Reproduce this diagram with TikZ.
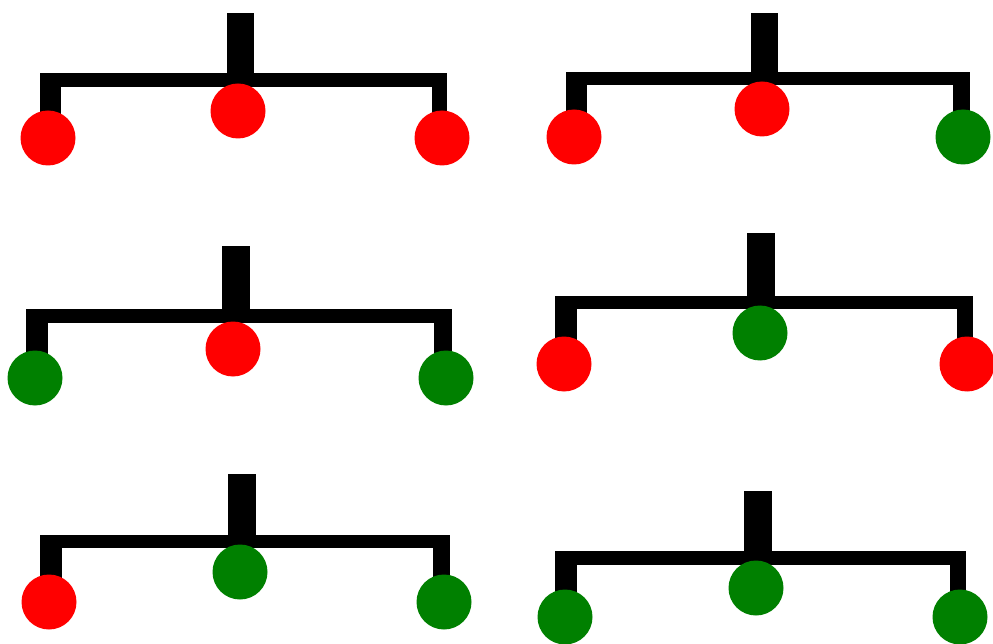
\documentclass[tikz,border=0pt]{standalone}
\definecolor{rd}{RGB}{255,0,0}
\definecolor{gr}{RGB}{0,128,0}
\tikzset{
  dot/.style={circle,inner sep=0pt,minimum size=55pt,draw=none},
  reddot/.style={dot,fill=rd},
  greendot/.style={dot,fill=gr},
  bracket/.style={fill=black}
}
\begin{document}
\begin{tikzpicture}[x=1pt,y=-1pt]
\useasboundingbox (0,0) rectangle (993,644);
% ---- group 1 (top left)
\fill[bracket] (227,13) rectangle (254,80);
\fill[bracket] (40,73) rectangle (447,87);
\fill[bracket] (40,73) rectangle (61,125);
\fill[bracket] (432,73) rectangle (447,125);
\node[reddot] (a1) at (48,138) {};
\node[reddot] (a2) at (238,111) {};
\node[reddot] (a3) at (442,138) {};
% ---- group 2 (top right)
\fill[bracket] (751,13) rectangle (778,80);
\fill[bracket] (566,72) rectangle (970,85);
\fill[bracket] (566,72) rectangle (587,125);
\fill[bracket] (953,72) rectangle (970,125);
\node[reddot] (b1) at (574,137) {};
\node[reddot] (b2) at (762,109) {};
\node[greendot] (b3) at (963,137) {};
% ---- group 3 (middle left)
\fill[bracket] (222,246) rectangle (250,315);
\fill[bracket] (26,309) rectangle (452,323);
\fill[bracket] (26,309) rectangle (48,365);
\fill[bracket] (434,309) rectangle (452,365);
\node[greendot] (c1) at (35,378) {};
\node[reddot] (c2) at (233,349) {};
\node[greendot] (c3) at (446,378) {};
% ---- group 4 (middle right)
\fill[bracket] (747,233) rectangle (775,300);
\fill[bracket] (555,296) rectangle (973,309);
\fill[bracket] (555,296) rectangle (577,350);
\fill[bracket] (957,296) rectangle (973,350);
\node[reddot] (d1) at (564,364) {};
\node[greendot] (d2) at (760,333) {};
\node[reddot] (d3) at (967,364) {};
% ---- group 5 (bottom left)
\fill[bracket] (228,474) rectangle (256,540);
\fill[bracket] (40,535) rectangle (450,548);
\fill[bracket] (40,535) rectangle (62,590);
\fill[bracket] (433,535) rectangle (450,590);
\node[reddot] (e1) at (49,602) {};
\node[greendot] (e2) at (240,572) {};
\node[greendot] (e3) at (444,602) {};
% ---- group 6 (bottom right)
\fill[bracket] (744,491) rectangle (772,556);
\fill[bracket] (555,551) rectangle (966,565);
\fill[bracket] (555,551) rectangle (577,605);
\fill[bracket] (950,551) rectangle (966,605);
\node[greendot] (f1) at (565,617) {};
\node[greendot] (f2) at (756,588) {};
\node[greendot] (f3) at (960,617) {};
\end{tikzpicture}
\end{document}
